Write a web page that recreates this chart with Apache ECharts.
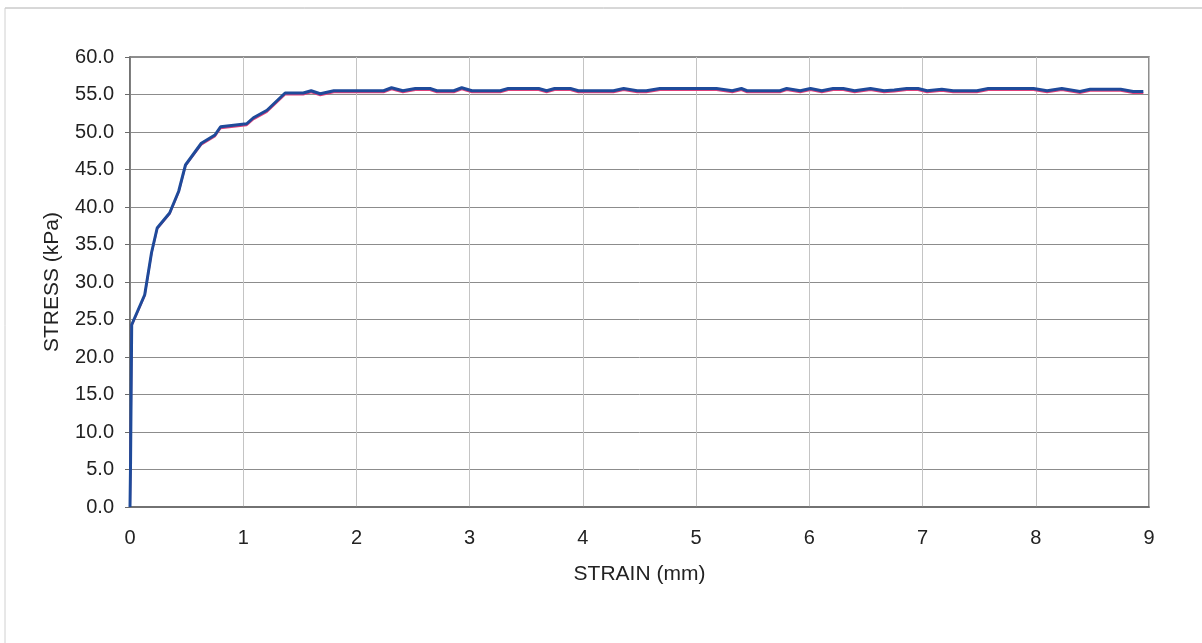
<!DOCTYPE html>
<html>
<head>
<meta charset="utf-8">
<script src="https://cdn.jsdelivr.net/npm/echarts@6/dist/echarts.min.js"></script>
<style>
html,body{margin:0;padding:0;background:#fff;}
#chart{width:1202px;height:643px;}
</style>
</head>
<body>
<div id="chart"></div>
<script>
const strain = [0,0.005,0.01,0.015,0.13,0.19,0.24,0.35,0.43,0.49,0.63,0.75,0.80,1.03,1.09,1.21,1.37,1.53,1.60,1.68,1.80,2.24,2.31,2.41,2.52,2.65,2.71,2.86,2.93,3.02,3.27,3.34,3.61,3.68,3.75,3.89,3.96,4.27,4.36,4.48,4.56,4.68,5.18,5.32,5.40,5.45,5.74,5.80,5.92,6.01,6.11,6.21,6.30,6.40,6.54,6.66,6.75,6.86,6.96,7.04,7.17,7.27,7.48,7.58,7.98,8.10,8.23,8.39,8.48,8.75,8.86,8.95];
const stressBlue = [0,6,15,24.3,28.3,33.9,37.2,39.2,42.1,45.6,48.5,49.6,50.7,51.1,51.9,52.9,55.2,55.2,55.5,55.1,55.5,55.5,55.9,55.5,55.8,55.8,55.5,55.5,55.9,55.5,55.5,55.8,55.8,55.5,55.8,55.8,55.5,55.5,55.8,55.5,55.5,55.8,55.8,55.5,55.8,55.5,55.5,55.8,55.5,55.8,55.5,55.8,55.8,55.5,55.8,55.5,55.6,55.8,55.8,55.5,55.7,55.5,55.5,55.8,55.8,55.5,55.8,55.4,55.7,55.7,55.4,55.4];
const stressRed = [0,6,15,24.2,28.2,33.8,37.1,39.1,42.0,45.5,48.3,49.4,50.5,50.9,51.7,52.7,55.0,55.0,55.3,54.9,55.3,55.3,55.7,55.3,55.6,55.6,55.3,55.3,55.7,55.3,55.3,55.6,55.6,55.3,55.6,55.6,55.3,55.3,55.6,55.3,55.3,55.6,55.6,55.3,55.6,55.3,55.3,55.6,55.3,55.6,55.3,55.6,55.6,55.3,55.6,55.3,55.4,55.6,55.6,55.3,55.5,55.3,55.3,55.6,55.6,55.3,55.6,55.2,55.5,55.5,55.2,55.2];
const xTicks = [0,1,2,3,4,5,6,7,8,9];
const yTicks = [0,5,10,15,20,25,30,35,40,45,50,55,60];

const chart = echarts.init(document.getElementById('chart'), null, {renderer:'canvas'});
const font = '"Liberation Sans", Arial, sans-serif';
chart.setOption({
  animation:false,
  backgroundColor:'#fff',
  graphic:[
    {type:'line', shape:{x1:5,y1:8,x2:1202,y2:8}, style:{stroke:'#b0b0b0',lineWidth:1}},
    {type:'line', shape:{x1:5,y1:8,x2:5,y2:643}, style:{stroke:'#d0d0d0',lineWidth:1}}
  ],
  grid:{left:130,right:53,top:57,bottom:136,show:true,borderColor:'#6a6a6a',borderWidth:1.5,backgroundColor:'transparent'},
  xAxis:{
    type:'value',min:xTicks[0],max:xTicks[xTicks.length-1],interval:1,
    name:'STRAIN (mm)',nameLocation:'middle',nameGap:57,
    nameTextStyle:{fontFamily:font,fontSize:21,color:'#222'},
    axisLine:{show:true,lineStyle:{color:'#6a6a6a',width:1.5}},
    axisTick:{show:false},
    axisLabel:{fontFamily:font,fontSize:20,color:'#222',margin:21},
    splitLine:{show:true,lineStyle:{color:'#c4c4c4',width:1}}
  },
  yAxis:{
    type:'value',min:yTicks[0],max:yTicks[yTicks.length-1],interval:5,
    name:'STRESS (kPa)',nameLocation:'middle',nameGap:67,nameRotate:90,
    nameTextStyle:{fontFamily:font,fontSize:21,color:'#222'},
    axisLine:{show:true,lineStyle:{color:'#6a6a6a',width:1.5}},
    axisTick:{show:true,length:5,lineStyle:{color:'#6a6a6a'}},
    axisLabel:{fontFamily:font,fontSize:20,color:'#222',margin:16,formatter:v=>v.toFixed(1)},
    splitLine:{show:true,lineStyle:{color:'#8c8c8c',width:1}}
  },
  series:[
    {type:'line',data:strain.map((s,i)=>[s,stressRed[i]]),showSymbol:false,
     lineStyle:{color:'#e0407a',width:2},z:2},
    {type:'line',data:strain.map((s,i)=>[s,stressBlue[i]]),showSymbol:false,
     lineStyle:{color:'#1f4a9a',width:3},z:3}
  ]
});
</script>
</body>
</html>
